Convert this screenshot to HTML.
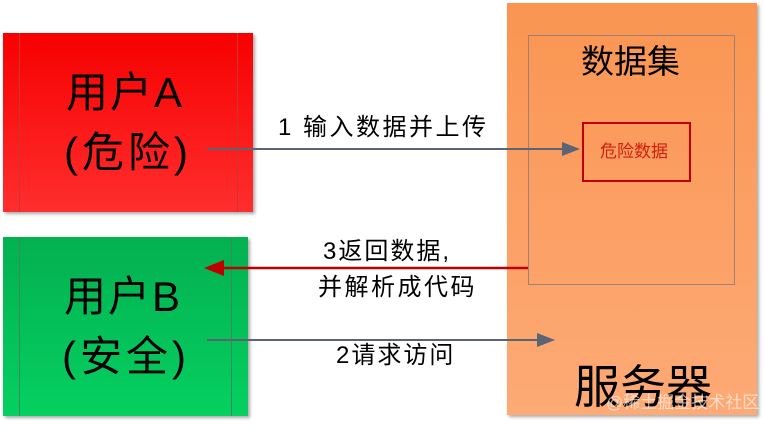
<!DOCTYPE html>
<html><head><meta charset="utf-8"><style>
html,body{margin:0;padding:0;background:#fff;width:764px;height:429px;overflow:hidden;position:relative;font-family:"Liberation Sans","Noto Sans CJK SC",sans-serif}
.a{position:absolute}
.t{position:absolute;white-space:nowrap;line-height:1}
</style></head><body>
<div class="a" style="left:3px;top:33px;width:250px;height:179px;background:linear-gradient(#f70000,#ff2e2e);box-shadow:2px 2px 3px #aaa;"></div>
<div class="a" style="left:19px;top:33px;width:1px;height:179px;background:#c33"></div>
<div class="a" style="left:237px;top:33px;width:1px;height:179px;background:#c33"></div>
<div class="a" style="left:3px;top:237px;width:245px;height:179px;background:linear-gradient(#04b050,#05d060);box-shadow:2px 2px 3px #aaa;"></div>
<div class="a" style="left:19px;top:237px;width:1px;height:179px;background:#3a8a5a"></div>
<div class="a" style="left:231px;top:237px;width:1px;height:179px;background:#3a8a5a"></div>
<div class="a" style="left:507px;top:3px;width:250px;height:412px;background:linear-gradient(#fa9552,#fdaa76);box-shadow:2px 2px 3px #aaa;"></div>
<div class="a" style="left:528px;top:35px;width:207px;height:250px;border:1px solid #a08070;box-sizing:border-box"></div>
<div class="a" style="left:582px;top:122px;width:109px;height:60px;border:2px solid #c00000;box-sizing:border-box"></div>
<div class="t" style="left:66px;top:72px;font-size:42px;letter-spacing:2px">用户A</div>
<div class="t" style="left:64px;top:132px;font-size:42px;letter-spacing:4px">(危险)</div>
<div class="t" style="left:64px;top:276px;font-size:42px;letter-spacing:2px">用户B</div>
<div class="t" style="left:62px;top:336px;font-size:42px;letter-spacing:4px">(安全)</div>
<div class="t" style="left:581px;top:45px;font-size:33px;">数据集</div>
<div class="t" style="left:600px;top:143px;font-size:17px;color:#d02010">危险数据</div>
<div class="t" style="left:574px;top:364px;font-size:46px;">服务器</div>
<div class="t" style="left:606px;top:394px;font-size:17px;color:rgba(255,255,255,0.6)">@稀土掘金技术社区</div>
<div class="t" style="left:278px;top:116px;font-size:24px;letter-spacing:2.5px">1 输入数据并上传</div>
<div class="t" style="left:323px;top:240px;font-size:24px;letter-spacing:2px">3返回数据,</div>
<div class="t" style="left:318px;top:276px;font-size:24px;letter-spacing:2.5px">并解析成代码</div>
<div class="t" style="left:336px;top:344px;font-size:24px;letter-spacing:2px">2请求访问</div>
<svg class="a" style="left:0;top:0" width="764" height="429">
<line x1="207" y1="149" x2="566" y2="149" stroke="#5a6474" stroke-width="2"/>
<polygon points="580,149 562,142 562,156" fill="#5a6474"/>
<line x1="528" y1="268" x2="220" y2="268" stroke="#c00000" stroke-width="2.5"/>
<polygon points="204,268 224,260 224,276" fill="#c00000"/>
<line x1="207" y1="340" x2="540" y2="340" stroke="#5a6474" stroke-width="2"/>
<polygon points="555,340 537,333 537,347" fill="#5a6474"/>
</svg>
</body></html>
